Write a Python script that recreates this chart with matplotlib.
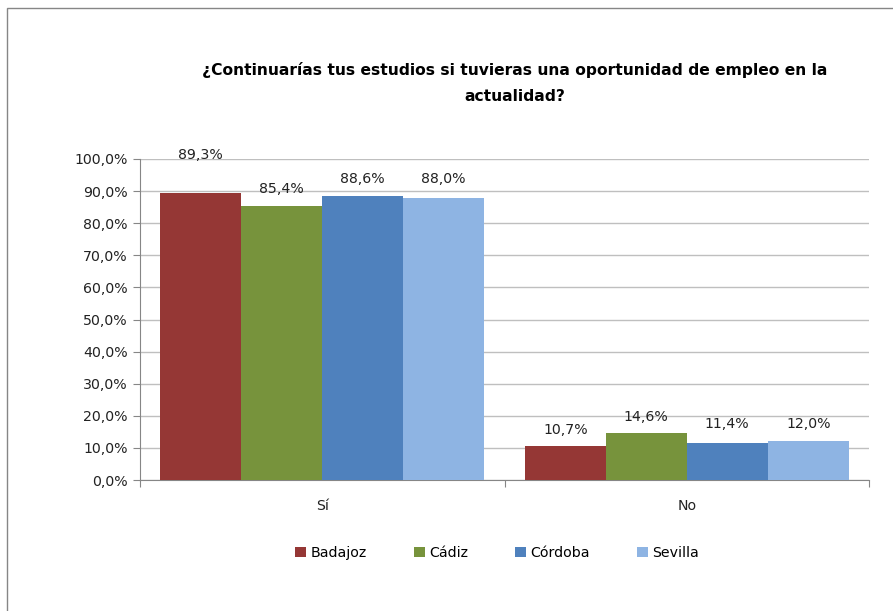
import matplotlib
matplotlib.use("Agg")
import matplotlib.pyplot as plt
from matplotlib.patches import Rectangle
from matplotlib import font_manager
import numpy as np

plt.rcParams['font.family'] = ['DejaVu Sans']

categories = ["Sí", "No"]
series_names = ["Badajoz", "Cádiz", "Córdoba", "Sevilla"]
badajoz = [89.3, 10.7]
cadiz = [85.4, 14.6]
cordoba = [88.6, 11.4]
sevilla = [88.0, 12.0]
values = [badajoz, cadiz, cordoba, sevilla]
colors = ["#953735", "#77933C", "#4F81BD", "#8EB4E3"]
yticks = [0, 10, 20, 30, 40, 50, 60, 70, 80, 90, 100]
title = "¿Continuarías tus estudios si tuvieras una oportunidad de empleo en la\nactualidad?"

# label vertical offsets (pixels above bar top), per series per category
label_offsets = [[38, 16], [17, 16], [17, 19], [19, 17]]

available = {f.name for f in font_manager.fontManager.ttflist}
title_family = 'Liberation Sans Narrow' if 'Liberation Sans Narrow' in available else 'DejaVu Sans'
title_size = 14 if title_family == 'Liberation Sans Narrow' else 11.2

W, H = 893, 611
fig = plt.figure(figsize=(W / 100, H / 100), dpi=100)
fig.patch.set_facecolor("white")

# chart border (extends beyond visible area on right/bottom)
fig.patches.append(Rectangle((7 / W, -0.1), 1.2, (1 - 8 / H) + 0.1, transform=fig.transFigure,
                             fill=False, edgecolor="#868686", linewidth=1.0))

ax = fig.add_axes([140 / W, 1 - 480 / H, (869 - 140) / W, (480 - 159) / H])

fs = 10.2
x = np.arange(len(categories))
bw = 0.2222
n = len(series_names)
for i, (name, vals, c) in enumerate(zip(series_names, values, colors)):
    pos = x + (i - (n - 1) / 2) * bw
    bars = ax.bar(pos, vals, width=bw, color=c, label=name, zorder=3, edgecolor="none")
    for j, (b, v) in enumerate(zip(bars, vals)):
        ax.annotate(f"{v:.1f}".replace(".", ",") + "%",
                    (b.get_x() + b.get_width() / 2, v),
                    xytext=(0, label_offsets[i][j] * 0.72), textcoords="offset points",
                    ha="center", va="center", fontsize=fs, color="#222222")

ax.set_xlim(-0.5, 1.5)
ax.set_ylim(0, 100)
ax.set_yticks(yticks)
ax.set_yticklabels([f"{t:.1f}".replace(".", ",") + "%" for t in yticks], fontsize=fs, color="#222222")
ax.yaxis.grid(True, color="#BFBFBF", linewidth=1.0, zorder=0)
ax.set_axisbelow(True)

# x ticks at category boundaries, labels at centres
ax.set_xticks([-0.5, 0.5, 1.5])
ax.set_xticklabels(["", "", ""])
ax.set_xticks(x, minor=True)
ax.set_xticklabels(categories, minor=True, fontsize=fs, color="#222222")
ax.tick_params(axis="x", which="minor", length=0, pad=14)
ax.tick_params(axis="x", which="major", length=5, color="#868686", direction="out")
ax.tick_params(axis="y", length=5, color="#868686", direction="out", pad=4)

for s in ["top", "right"]:
    ax.spines[s].set_visible(False)
ax.spines["left"].set_color("#868686")
ax.spines["bottom"].set_color("#868686")

fig.text(515 / W, 1 - 83 / H, title, ha="center", va="center", fontsize=title_size,
         fontweight="bold", linespacing=1.95, color="black", family=title_family)

handles, labels = ax.get_legend_handles_labels()
leg = fig.legend(handles, labels, loc="center", bbox_to_anchor=(497 / W, 1 - 553 / H), ncol=4,
                 frameon=False, fontsize=fs, handlelength=0.8, handleheight=0.8,
                 handletextpad=0.3, columnspacing=3.3)

fig.savefig("out.png", dpi=100, facecolor="white")
